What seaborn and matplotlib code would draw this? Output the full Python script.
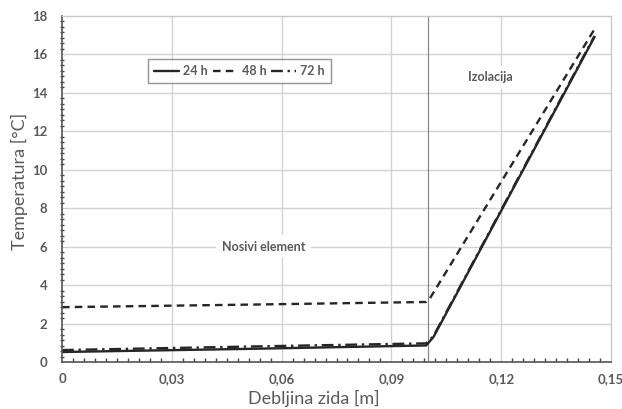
import numpy as np
import pandas as pd
import matplotlib
matplotlib.use("Agg")
import matplotlib.pyplot as plt
import seaborn as sns
from matplotlib.ticker import MultipleLocator, FuncFormatter, AutoMinorLocator

# ---- data ----
x_24 = [0.0, 0.05, 0.0995, 0.1015, 0.1455]
y_24 = [0.52, 0.68, 0.86, 1.30, 16.9]
x_48 = [0.0, 0.05, 0.0995, 0.1005, 0.1455]
y_48 = [2.85, 2.98, 3.12, 3.30, 17.3]
x_72 = [0.0, 0.05, 0.0995, 0.1015, 0.1455]
y_72 = [0.62, 0.80, 0.97, 1.35, 16.95]
series_names = ["24 h", "48 h", "72 h"]
x_ticks = [0, 0.03, 0.06, 0.09, 0.12, 0.15]
y_ticks = [0, 2, 4, 6, 8, 10, 12, 14, 16, 18]

df = pd.concat([
    pd.DataFrame({"x": x_24, "y": y_24, "s": series_names[0]}),
    pd.DataFrame({"x": x_48, "y": y_48, "s": series_names[1]}),
    pd.DataFrame({"x": x_72, "y": y_72, "s": series_names[2]}),
], ignore_index=True)

sns.set_theme(style="white")
FONT = ["Lato", "DejaVu Sans"]
plt.rcParams["font.family"] = FONT
TXT = "#5a5a5a"

fig = plt.figure(figsize=(6.22, 4.09), dpi=100)
ax = fig.add_axes([0.0997, 0.1149, 0.8826, 0.8467])

# gridlines
for yv in y_ticks[1:-1]:
    ax.axhline(yv, color="#d2d2d2", lw=1.0, zorder=0)
for xv in [0.03, 0.06, 0.09, 0.12]:
    ax.axvline(xv, color="#d2d2d2", lw=1.0, zorder=0)
ax.axvline(0.1, color="#8a8a8a", lw=0.9, zorder=0.5)

sns.lineplot(data=df, x="x", y="y", hue="s", style="s",
             palette={n: "#262626" for n in series_names},
             dashes={"24 h": "", "48 h": (3.2, 2.2), "72 h": (5, 2, 1, 2)},
             linewidth=1.7, ax=ax, legend=True, sort=False)

ax.set_xlim(0, 0.15)
ax.set_ylim(0, 18)
ax.set_xticks(x_ticks)
ax.set_yticks(y_ticks)
ax.xaxis.set_major_formatter(FuncFormatter(lambda v, p: "0" if v == 0 else f"{v:.2f}".replace(".", ",")))
ax.xaxis.set_minor_locator(MultipleLocator(0.003))
ax.yaxis.set_minor_locator(AutoMinorLocator(7))
ax.tick_params(axis="x", which="major", length=0, pad=8, labelsize=9.5, labelcolor=TXT)
ax.tick_params(axis="x", which="minor", direction="in", length=3, width=1, color="#444444", bottom=True)
ax.tick_params(axis="y", which="major", direction="inout", length=5, width=1, color="#444444", pad=8, labelsize=9.5, labelcolor=TXT)
ax.tick_params(axis="y", which="minor", direction="inout", length=3, width=1, color="#444444", left=True)
for lab in ax.get_xticklabels() + ax.get_yticklabels():
    lab.set_fontweight("bold")

for s in ["left", "bottom"]:
    ax.spines[s].set_color("#555555")
    ax.spines[s].set_linewidth(1.2)
for s in ["top", "right"]:
    ax.spines[s].set_color("#c8c8c8")
    ax.spines[s].set_linewidth(1.0)

ax.set_xlabel("Debljina zida [m]", fontsize=13, color=TXT)
ax.set_ylabel("Temperatura [°C]", fontsize=13, color=TXT)
ax.xaxis.set_label_coords(0.459, -0.08)
ax.yaxis.set_label_coords(-0.062, 0.52)

bbox = dict(facecolor="white", edgecolor="none", pad=4)
ax.text(0.055, 6, "Nosivi element", ha="center", va="center", fontsize=9,
        color=TXT, fontweight="bold", bbox=bbox, zorder=1)
ax.text(0.117, 14.8, "Izolacija", ha="center", va="center", fontsize=9,
        color=TXT, fontweight="bold", bbox=bbox, zorder=1)

leg = ax.legend(loc="upper left", bbox_to_anchor=(0.157, 0.875), borderaxespad=0,
                ncol=3, frameon=True, fancybox=False, fontsize=9,
                handlelength=2.0, handletextpad=0.3, columnspacing=0.4,
                borderpad=0.5)
leg.get_frame().set_edgecolor("#7a7a7a")
leg.get_frame().set_linewidth(1.0)
for t in leg.get_texts():
    t.set_color(TXT)
    t.set_fontweight("bold")

fig.savefig("out.png", dpi=100)
